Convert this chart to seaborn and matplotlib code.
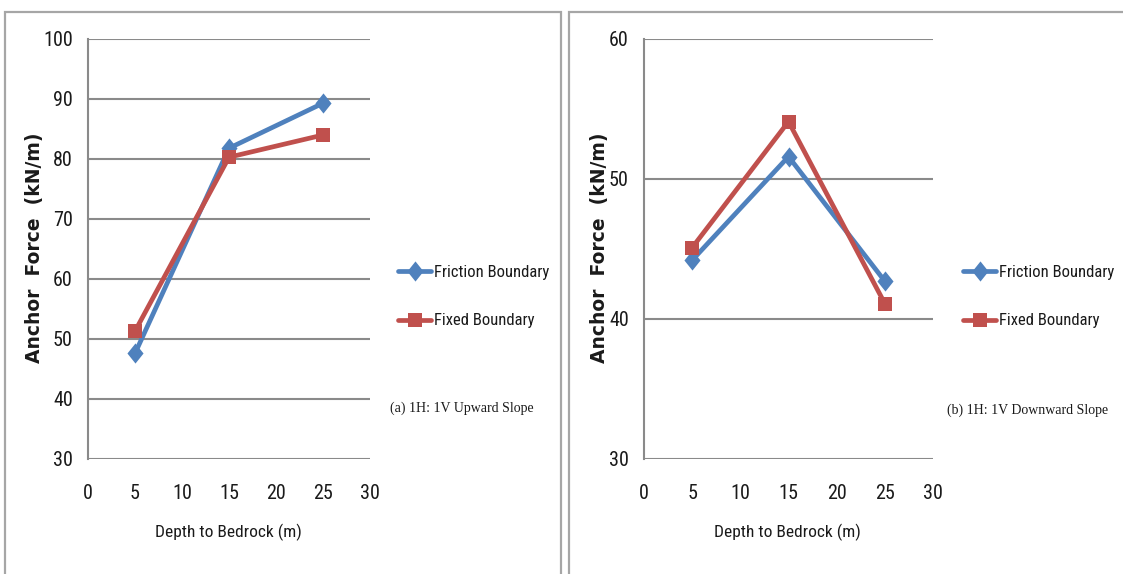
import matplotlib
matplotlib.use("Agg")
import matplotlib.pyplot as plt
import seaborn as sns
import pandas as pd
from matplotlib.patches import Rectangle

# Depth to bedrock (m)
depth = [5, 15, 25]

# Anchor force (kN/m), 1H:1V upward slope
up_friction = [47.6, 81.8, 89.3]
up_fixed = [51.3, 80.3, 84.0]

# Anchor force (kN/m), 1H:1V downward slope
down_friction = [44.2, 51.6, 42.7]
down_fixed = [45.1, 54.1, 41.1]

series_names = ["Friction Boundary", "Fixed Boundary"]
panel_captions = ["(a) 1H: 1V Upward Slope", "(b) 1H: 1V Downward Slope"]
x_ticks = [0, 5, 10, 15, 20, 25, 30]
up_yticks = [30, 40, 50, 60, 70, 80, 90, 100]
down_yticks = [30, 40, 50, 60]

BLUE = "#4F81BD"
RED = "#C0504D"
GRID = "#8A8A8A"
INK = "#1a1a1a"

# slightly slender diamond for the friction series
DIAMOND = [(0, 1), (0.8, 0), (0, -1), (-0.8, 0), (0, 1)]
MARKER_SIZE = {BLUE: 14.5, RED: 10.5}

sns.set_theme(style="white")
SANS = ["Roboto Condensed", "Liberation Sans Narrow", "Roboto", "DejaVu Sans"]
plt.rcParams["font.family"] = SANS

W, H = 1123, 574
fig = plt.figure(figsize=(W / 100, H / 100), dpi=100)


def frac_box(x0, y0, x1, y1):
    """Pixel box (top-left origin) -> figure fraction [l, b, w, h]."""
    return [x0 / W, 1 - y1 / H, (x1 - x0) / W, (y1 - y0) / H]


def resize_markers(lines):
    for ln in lines:
        col = matplotlib.colors.to_hex(ln.get_color()).upper()
        if col in MARKER_SIZE:
            ln.set_markersize(MARKER_SIZE[col])


# Panel frames
for x0, x1 in [(5, 561), (569, 1135)]:
    fig.patches.append(Rectangle((x0 / W, -0.01), (x1 - x0) / W, 1 - 12 / H + 0.01,
                                 transform=fig.transFigure, fill=False,
                                 edgecolor="#A6A6A6", linewidth=1.6))


def long_form(fric, fix):
    return pd.DataFrame({
        "depth": depth * 2,
        "force": fric + fix,
        "boundary": [series_names[0]] * len(depth) + [series_names[1]] * len(depth),
    })


panels = [
    dict(box=(88, 39, 370, 459), data=long_form(up_friction, up_fixed), yt=up_yticks,
         ylabel_x=35, legend_x=398, cap_xy=(462, 408), xlabel_x=228),
    dict(box=(644, 39, 933, 459), data=long_form(down_friction, down_fixed), yt=down_yticks,
         ylabel_x=600, legend_x=963, cap_xy=(1028, 410), xlabel_x=787),
]

for i, p in enumerate(panels):
    ax = fig.add_axes(frac_box(*p["box"]))
    sns.lineplot(data=p["data"], x="depth", y="force", hue="boundary", style="boundary",
                 hue_order=series_names, style_order=series_names,
                 palette=[BLUE, RED], markers=[DIAMOND, "s"], dashes=False,
                 linewidth=3.4, markersize=11, markeredgewidth=0, ax=ax)
    resize_markers(ax.lines)
    ax.set_xlim(0, 30)
    ax.set_ylim(p["yt"][0], p["yt"][-1])
    ax.set_xticks(x_ticks)
    ax.set_yticks(p["yt"])
    ax.yaxis.grid(True, color=GRID, linewidth=1.5)
    ax.set_axisbelow(True)
    for side in ["top", "right", "bottom"]:
        ax.spines[side].set_visible(False)
    ax.spines["left"].set_color(GRID)
    ax.spines["left"].set_linewidth(1.5)
    ax.tick_params(axis="both", length=0, labelsize=14.5, colors=INK)
    ax.tick_params(axis="x", pad=18)
    ax.tick_params(axis="y", pad=11)
    ax.set_xlabel("")
    ax.set_ylabel("")

    # axis titles
    fig.text(p["xlabel_x"] / W, 1 - 532 / H, "Depth to Bedrock (m)", ha="center", va="center",
             fontsize=12.5, color=INK)
    fig.text(p["ylabel_x"] / W, 1 - 248 / H, "Anchor  Force  (kN/m)", ha="center", va="center",
             rotation=90, fontsize=13.5, fontweight="bold", color=INK,
             family=["DejaVu Sans"])

    handles, labels = ax.get_legend_handles_labels()
    ax.get_legend().remove()
    resize_markers(handles)
    fig.legend(handles, labels, loc="upper left",
               bbox_to_anchor=(p["legend_x"] / W, 1 - 265 / H),
               frameon=False, fontsize=12, handlelength=2.0, handletextpad=0.15,
               labelspacing=2.0, borderaxespad=0, borderpad=0, labelcolor=INK)

    fig.text(p["cap_xy"][0] / W, 1 - p["cap_xy"][1] / H, panel_captions[i],
             ha="center", va="center", fontsize=10, color=INK,
             family=["Liberation Serif", "DejaVu Serif"])

fig.savefig("out.png", dpi=100)
